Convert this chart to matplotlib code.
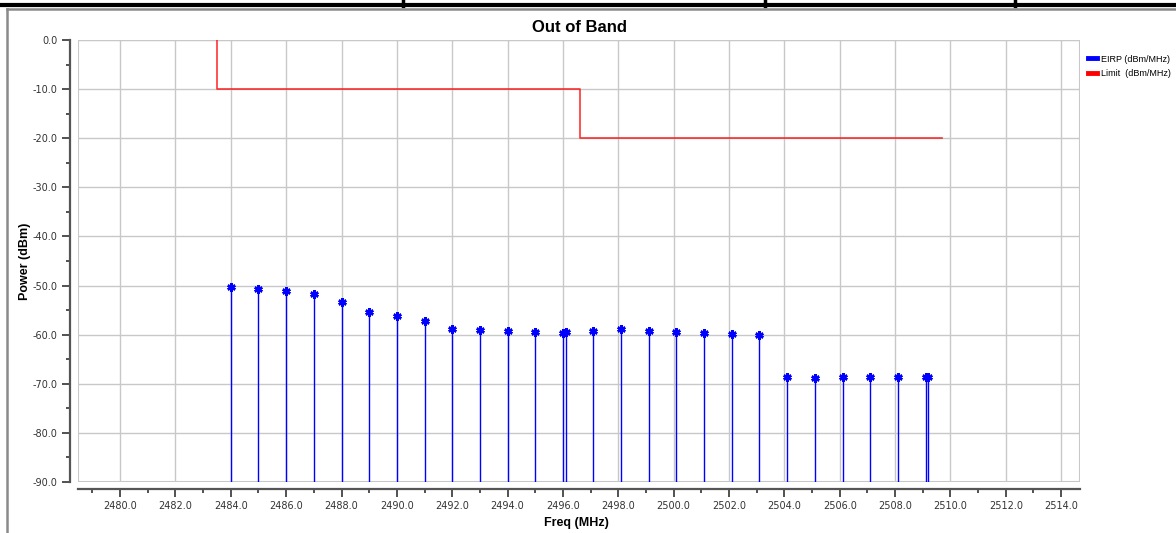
import matplotlib.pyplot as plt
from matplotlib.lines import Line2D
from matplotlib.patches import Rectangle

# EIRP readings (MHz, dBm/MHz)
freq = [2484.0, 2485.0, 2486.0, 2487.0, 2488.0, 2489.0, 2490.0, 2491.0,
        2492.0, 2493.0, 2494.0, 2495.0, 2496.0, 2496.1, 2497.1, 2498.1,
        2499.1, 2500.1, 2501.1, 2502.1, 2503.1, 2504.1, 2505.1, 2506.1,
        2507.1, 2508.1, 2509.1, 2509.2]
eirp = [-50.3, -50.6, -51.2, -51.8, -53.4, -55.3, -56.2, -57.3,
        -58.8, -59.0, -59.2, -59.4, -59.6, -59.5, -59.2, -58.8,
        -59.2, -59.4, -59.6, -59.8, -60.1, -68.6, -68.9, -68.6,
        -68.6, -68.6, -68.6, -68.6]

# limit mask
limit_x = [2483.5, 2483.5, 2496.63, 2496.63, 2509.7]
limit_y = [0.0, -10.0, -10.0, -20.0, -20.0]

x_ticks = list(range(2480, 2515, 2))
y_ticks = list(range(-90, 1, 10))

W, H = 1176, 533
fig = plt.figure(figsize=(W / 100, H / 100), dpi=100)
plt.rcParams['font.family'] = ['DejaVu Sans']

ax = fig.add_axes([78 / W, 1 - 482 / H, 1002 / W, 442 / H])
ax.set_xlim(2478.48, 2514.68)
ax.set_ylim(-90, 0)

# plot border and grid
for s in ['top', 'right']:
    ax.spines[s].set_visible(False)
ax.spines['left'].set_position(('outward', 6))
ax.spines['bottom'].set_position(('outward', 5))
for s in ['left', 'bottom']:
    ax.spines[s].set_color('#555555')
    ax.spines[s].set_linewidth(1.6)
ax.add_patch(Rectangle((0, 0), 1, 1, transform=ax.transAxes, fill=False,
                       edgecolor='#c8c8c8', lw=1.5, zorder=0.5))
ax.grid(True, color='#c8c8c8', lw=1)
ax.set_axisbelow(True)

ax.set_xticks(x_ticks)
ax.set_xticklabels([f'{v:.1f}' for v in x_ticks])
ax.set_xticks(list(range(2479, 2515, 2)), minor=True)
ax.set_yticks(y_ticks)
ax.set_yticklabels([f'{v:.1f}' for v in y_ticks])
ax.set_yticks(list(range(-85, 0, 10)), minor=True)
ax.tick_params(which='major', length=6, width=1.2, color='#333333',
               labelsize=7, labelcolor='#333333', pad=2.5)
ax.tick_params(which='minor', length=3, width=1.2, color='#333333')

# stems + markers
ax.vlines(freq, -90, eirp, color='blue', lw=1, zorder=3)
ax.plot(freq, eirp, ls='none', marker=(6, 2, 0), ms=6, mew=1.8,
        color='blue', zorder=4, label='EIRP (dBm/MHz)')
ax.plot(limit_x, limit_y, color='red', lw=1.2, alpha=0.8, zorder=3,
        label='Limit  (dBm/MHz)')

ax.set_title('Out of Band', fontsize=12, fontweight='bold',
             family='Liberation Sans', pad=6)
ax.set_xlabel('Freq (MHz)', fontsize=9, fontweight='bold',
              family='Liberation Sans')
ax.set_ylabel('Power (dBm)', fontsize=9, fontweight='bold',
              family='Liberation Sans')
ax.xaxis.set_label_coords(0.497, -0.079)
ax.yaxis.set_label_coords(-0.047, 0.5)

handles = [Line2D([], [], color='blue', lw=3.5),
           Line2D([], [], color='red', lw=3.5)]
fig.legend(handles, ['EIRP (dBm/MHz)', 'Limit  (dBm/MHz)'],
           loc='upper left', bbox_to_anchor=(1084 / W, 1 - 51 / H),
           frameon=False, prop={'family': 'Liberation Sans', 'size': 6.5},
           handlelength=1.0, handletextpad=0.5, labelspacing=0.6,
           borderaxespad=0)

# window frame bits from the screenshot
def fline(x0, y0, x1, y1, **kw):
    fig.add_artist(Line2D([x0 / W, x1 / W], [1 - y0 / H, 1 - y1 / H],
                          transform=fig.transFigure, **kw))

fline(0, 5, W, 5, color='black', lw=3)
for xs in [403, 765, 1015]:
    fline(xs, 0, xs, 6, color='black', lw=2.5)
fline(7, 9, 7, H, color='#8a8a8a', lw=1.8)
fline(7, 9, W, 9, color='#8a8a8a', lw=1.8)

fig.savefig('out.png', dpi=100)
